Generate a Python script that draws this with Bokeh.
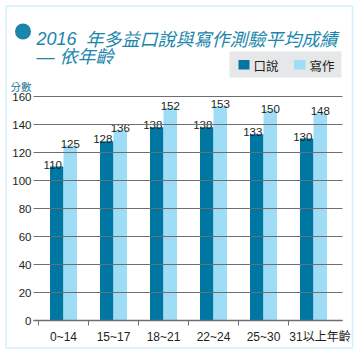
from bokeh.plotting import figure
from bokeh.models import ColumnDataSource, FixedTicker, Label, BoxAnnotation
from bokeh.core.properties import value
from bokeh.embed import file_html
from bokeh.resources import INLINE

# ---- data ----
categories = ["0~14", "15~17", "18~21", "22~24", "25~30", "31以上年齡"]
speaking = [110, 128, 138, 138, 133, 130]
writing = [125, 136, 152, 153, 150, 148]
y_ticks = [0, 20, 40, 60, 80, 100, 120, 140, 160]
series_names = ["口說", "寫作"]
title_year = "2016"
title_line1 = "年多益口說與寫作測驗平均成績"
title_line2 = "— 依年齡"
y_unit = "分數"

# ---- style ----
DARK = "#0077a3"
LIGHT = "#9fdcf6"
TEAL = "#1a86ab"
TXT = "#231f20"
GRID = "#6d6e71"
FONT = "Liberation Sans, Noto Sans CJK TC"
CJK = "Noto Sans CJK TC"

W, H = 357, 353
# plot-area geometry in canvas pixels
X0_PX = 38.0      # left edge of first category
CAT_PX = 50.0     # width of a category
Y0_PX = 320.0     # baseline (value 0)
PX_PER_UNIT = 1.4
PLOT_L, PLOT_R = 33.0, 342.0

x_start = -X0_PX / CAT_PX
x_end = (W - X0_PX) / CAT_PX
y_start = -(H - Y0_PX) / PX_PER_UNIT
y_end = Y0_PX / PX_PER_UNIT

p = figure(width=W, height=H, output_backend="svg", toolbar_location=None,
           title=None, x_range=(x_start, x_end), y_range=(y_start, y_end),
           min_border=0)
p.outline_line_color = None
p.background_fill_color = "white"
p.border_fill_color = "white"
p.xgrid.visible = False
p.ygrid.visible = False

idx = list(range(len(categories)))
bw = 0.27
src = ColumnDataSource(dict(
    xd=[i + 0.5 - bw / 2 for i in idx],
    xl=[i + 0.5 + bw / 2 for i in idx],
    sp=speaking, wr=writing,
    sp_t=[str(v) for v in speaking], wr_t=[str(v) for v in writing],
))

# ---- axes (fixed inside the canvas) ----
ax_l = (PLOT_L - X0_PX) / CAT_PX
ax_r = (PLOT_R - X0_PX) / CAT_PX

yax = p.yaxis[0]
yax.fixed_location = ax_l
yax.bounds = (0, 160)
yax.ticker = FixedTicker(ticks=y_ticks)
yax.axis_line_color = None
yax.major_tick_line_color = GRID
yax.major_tick_line_width = 1
yax.major_tick_out = 0
yax.major_tick_in = int(PLOT_R - PLOT_L)
yax.minor_tick_line_color = None
yax.major_label_text_font = FONT
yax.major_label_text_font_size = "11.5px"
yax.major_label_text_color = TXT
yax.major_label_standoff = 2

label_pos = [i + 0.5 for i in idx]
label_pos[-1] += 0.13
xax = p.xaxis[0]
xax.fixed_location = 0
xax.bounds = (ax_l, ax_r)
xax.ticker = FixedTicker(ticks=label_pos, minor_ticks=idx)
xax.major_label_overrides = {pos: c for pos, c in zip(label_pos, categories)}
xax.major_tick_line_color = None
xax.major_tick_out = 0
xax.major_tick_in = 0
xax.minor_tick_line_color = GRID
xax.minor_tick_out = 5
xax.minor_tick_in = 0
xax.axis_line_color = GRID
xax.axis_line_width = 1.3
xax.major_label_text_font = FONT
xax.major_label_text_font_size = "12px"
xax.major_label_text_color = TXT
xax.major_label_standoff = 4

# ---- bars ----
r_dark = p.vbar(x="xd", top="sp", width=bw, source=src, fill_color=DARK, line_color=None)
r_light = p.vbar(x="xl", top="wr", width=bw, source=src, fill_color=LIGHT, line_color=None)

p.text(x="xd", y="sp", text="sp_t", source=src, x_offset=-4, y_offset=-2,
       text_align="center", text_baseline="alphabetic", text_color=TXT,
       text_font=value(FONT), text_font_size="11.5px")
p.text(x="xl", y="wr", text="wr_t", source=src, y_offset=-2,
       text_align="center", text_baseline="alphabetic", text_color=TXT,
       text_font=value(FONT), text_font_size="11.5px")


def sy(cy):
    return H - cy


def box(l, r, t, b, **kw):
    return BoxAnnotation(left=l, right=r, top=sy(t), bottom=sy(b),
                         left_units="screen", right_units="screen",
                         top_units="screen", bottom_units="screen", **kw)


def label(x, y, text, **kw):
    return Label(x=x, y=sy(y), x_units="screen", y_units="screen", text=text, **kw)


# outer border
p.add_layout(box(5.5, 352, 5.5, 347.5, fill_color=None,
                 line_color="#6ccff6", line_width=1.5))

# title
p.add_layout(box(14.5, 30.5, 23, 39, fill_color=TEAL, fill_alpha=1,
                 line_color=None, border_radius=8))
p.add_layout(label(36, 38, title_year, text_font=FONT, text_font_style="italic",
                   text_font_size="18px", text_color=TEAL, text_baseline="alphabetic"))
p.add_layout(label(85, 37.5, title_line1, text_font=CJK, text_font_style="italic",
                   text_font_size="18px", text_color=TEAL, text_baseline="alphabetic"))
p.add_layout(label(36, 56, title_line2, text_font=FONT, text_font_style="italic",
                   text_font_size="18px", text_color=TEAL, text_baseline="alphabetic"))

# y unit
p.add_layout(label(10, 86, y_unit, text_font=CJK, text_font_size="10.5px",
                   text_color="#2b7aa0", text_baseline="alphabetic"))

# legend
p.add_layout(box(229, 341, 51, 77, fill_color="#e6e7e8", fill_alpha=1, line_color=None))
p.add_layout(box(238, 249, 59.5, 69, fill_color=DARK, fill_alpha=1, line_color=None))
p.add_layout(box(293.5, 305, 59.5, 69, fill_color=LIGHT, fill_alpha=1, line_color=None))
p.add_layout(label(253, 64.5, series_names[0], text_font=CJK, text_font_size="12.5px",
                   text_color=TXT, text_baseline="middle"))
p.add_layout(label(309, 64.5, series_names[1], text_font=CJK, text_font_size="12.5px",
                   text_color=TXT, text_baseline="middle"))

open("out.html", "w").write(file_html(p, INLINE))
